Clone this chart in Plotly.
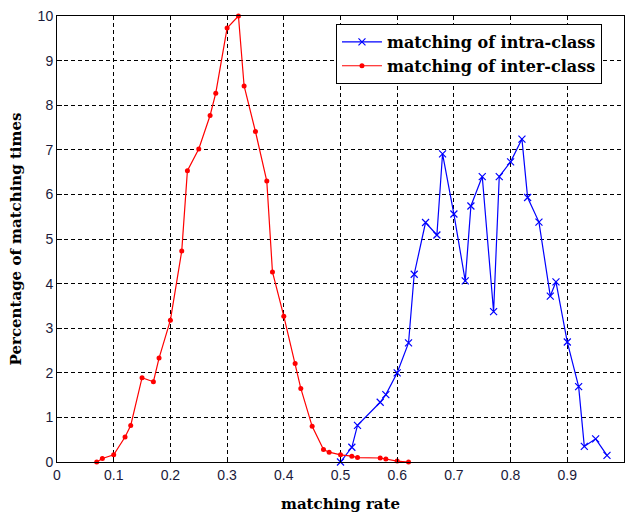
import plotly.graph_objects as go

# inter-class (red)
inter_x = [0.07, 0.08, 0.10, 0.12, 0.13, 0.15, 0.17, 0.18, 0.20, 0.22, 0.23, 0.25, 0.27, 0.28,
           0.30, 0.32, 0.33, 0.35, 0.37, 0.38, 0.40, 0.42, 0.43, 0.45, 0.47, 0.48, 0.50, 0.52,
           0.53, 0.57, 0.58, 0.60, 0.62]
inter_y = [0.0, 0.08, 0.16, 0.56, 0.82, 1.89, 1.80, 2.33, 3.18, 4.73, 6.53, 7.02, 7.77, 8.27,
           9.73, 10.0, 8.43, 7.41, 6.30, 4.26, 3.27, 2.21, 1.65, 0.80, 0.28, 0.22, 0.16, 0.13,
           0.10, 0.09, 0.07, 0.02, 0.0]

# intra-class (blue)
intra_x = [0.50, 0.52, 0.53, 0.57, 0.58, 0.60, 0.62, 0.63, 0.65, 0.67, 0.68, 0.70, 0.72, 0.73,
           0.75, 0.77, 0.78, 0.80, 0.82, 0.83, 0.85, 0.87, 0.88, 0.90, 0.92, 0.93, 0.95, 0.97]
intra_y = [0.0, 0.33, 0.82, 1.34, 1.51, 2.00, 2.67, 4.21, 5.37, 5.09, 6.91, 5.56, 4.06, 5.74,
           6.40, 3.37, 6.40, 6.73, 7.24, 5.93, 5.38, 3.72, 4.04, 2.69, 1.69, 0.35, 0.52, 0.15]

x_ticks = [0, 0.1, 0.2, 0.3, 0.4, 0.5, 0.6, 0.7, 0.8, 0.9, 1]
x_labels = ["0", "0.1", "0.2", "0.3", "0.4", "0.5", "0.6", "0.7", "0.8", "0.9", "1"]
y_ticks = list(range(0, 11))

serif = "DejaVu Serif"
tick_color = "#1a1a3a"

fig = go.Figure()
fig.add_trace(go.Scatter(
    x=intra_x, y=intra_y, mode="lines+markers", name="matching of intra-class",
    line=dict(color="#0000ff", width=1.2),
    marker=dict(symbol="x-thin-open", size=7, line=dict(color="#0000ff", width=1.2)),
    cliponaxis=False,
))
fig.add_trace(go.Scatter(
    x=inter_x, y=inter_y, mode="lines+markers", name="matching of inter-class",
    line=dict(color="#ff0000", width=1.2),
    marker=dict(symbol="circle", size=5, color="#ff0000"),
    cliponaxis=False,
))

axis_common = dict(
    showgrid=True, gridcolor="black", griddash="4px,3px", gridwidth=1,
    showline=True, linecolor="black", linewidth=1, mirror=True,
    ticks="inside", ticklen=5, tickcolor="black",
    zeroline=False,
    tickfont=dict(family="Liberation Sans, Arial", size=14, color=tick_color),
)

fig.update_layout(
    width=627, height=520,
    margin=dict(l=57, r=3, t=16, b=58),
    paper_bgcolor="white", plot_bgcolor="white",
    xaxis=dict(range=[0, 1], tickvals=x_ticks, ticktext=x_labels,
               title=dict(text="<b>matching rate</b>", font=dict(family=serif, size=15, color="black"),
                          standoff=16),
               **axis_common),
    yaxis=dict(range=[0, 10], tickvals=y_ticks,
               title=dict(text="<b>Percentage of matching times</b>", font=dict(family=serif, size=15, color="black"),
                          standoff=12),
               **axis_common),
    legend=dict(
        x=0.492, y=0.982, xanchor="left", yanchor="top",
        bgcolor="white", bordercolor="black", borderwidth=1,
        font=dict(family=serif, size=16, color="black", weight="bold"),
        itemwidth=40, tracegroupgap=0,
    ),
    showlegend=True,
)
fig.write_html("out.html")
